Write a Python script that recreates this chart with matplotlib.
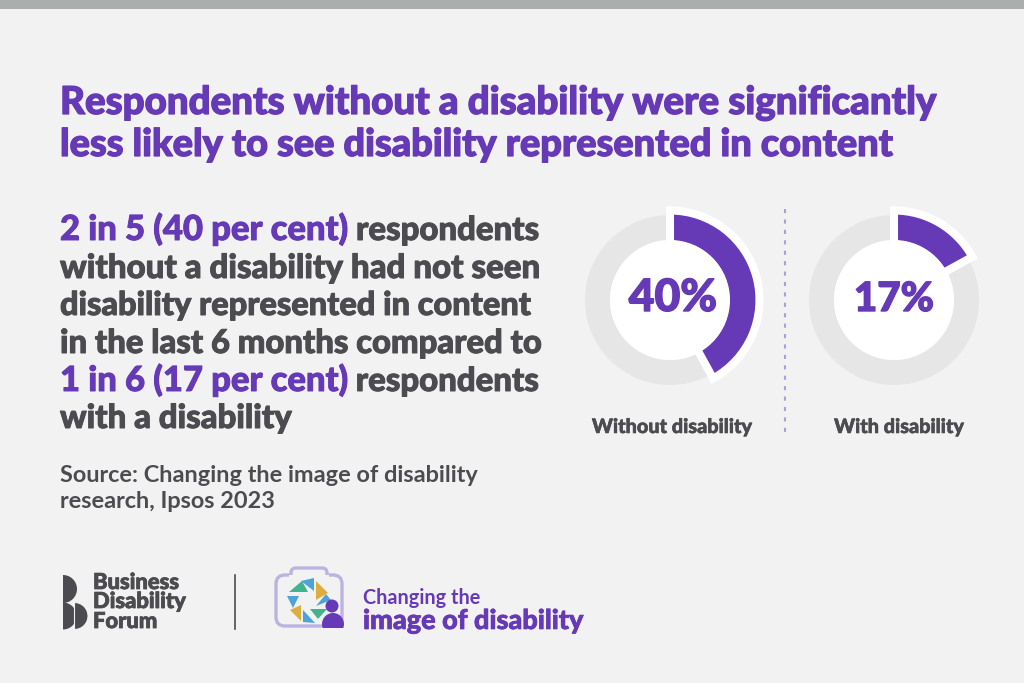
import matplotlib
matplotlib.use('Agg')
import matplotlib.pyplot as plt
import matplotlib.patheffects as pe
from matplotlib.patches import Circle, Wedge, Polygon, FancyBboxPatch, Rectangle

W, H = 1024, 683
PURPLE = '#6639b7'
DARK = '#4b4b50'
BG = '#f2f2f3'

plt.rcParams['font.family'] = ['Lato', 'DejaVu Sans']

# data
arc_values = [42, 17]  # as drawn in the picture, the first arc runs a bit past its label
share_labels = ['40%', '17%']
group_labels = ['Without disability', 'With disability']
title_lines = ['Respondents without a disability were significantly',
               'less likely to see disability represented in content']
body_lines = [[('2 in 5 (40 per cent)', PURPLE), ('respondents', DARK)],
              [('without a disability had not seen', DARK)],
              [('disability represented in content', DARK)],
              [('in the last 6 months compared to', DARK)],
              [('1 in 6 (17 per cent)', PURPLE), ('respondents', DARK)],
              [('with a disability', DARK)]]
source_lines = ['Source: Changing the image of disability', 'research, Ipsos 2023']

fig = plt.figure(figsize=(W / 100, H / 100), dpi=100, facecolor=BG)

# overlay in pixel coords, y pointing down like the picture
bg = fig.add_axes([0, 0, 1, 1])
bg.set_xlim(0, W)
bg.set_ylim(H, 0)
bg.axis('off')
bg.add_patch(Rectangle((0, 0), W, 9, color='#abaeac', lw=0))


def heavy(col, width=0.7):
    # the original face is heavier than Lato's heaviest, thicken it a little
    return [pe.withStroke(linewidth=width, foreground=col)]


def draw_runs(x, y, runs, size):
    # coloured pieces of one line, each starts where the last one ended
    renderer = fig.canvas.get_renderer()
    for txt, col in runs:
        s = size * 1.05 if col == PURPLE else size
        t = bg.text(x, y, txt, color=col, fontsize=s, fontweight='black', va='baseline',
                    path_effects=heavy(col))
        x += t.get_window_extent(renderer).width + 8


for line, y, s in zip(title_lines, [114, 156], [27.7, 27.3]):
    bg.text(60, y, line, color=PURPLE, fontsize=s, fontweight='black', va='baseline',
            path_effects=heavy(PURPLE, 0.9))

for runs, y, s in zip(body_lines, [240, 278, 315, 353, 391, 428], [23.7, 23.8, 23.4, 23.6, 23.7, 23.7]):
    draw_runs(60, y, runs, s)

for line, y in zip(source_lines, [482, 508]):
    bg.text(60, y, line, color=DARK, fontsize=16.9, fontweight='bold', va='baseline')


def donut(cx, cy, value, label, size_pt, text_dx):
    size = 220
    ax = fig.add_axes([(cx - size / 2) / W, 1 - (cy + size / 2) / H, size / W, size / H])
    ax.pie([100], colors=['#e6e6e7'], radius=85, startangle=90,
           wedgeprops=dict(width=25))
    wedges, _ = ax.pie([value, 100 - value], colors=[PURPLE, 'none'], radius=89.5,
                       startangle=90, counterclock=False,
                       wedgeprops=dict(width=34, edgecolor='white', linewidth=5.8))
    wedges[1].set_visible(False)
    ax.add_patch(Circle((0, 0), 60, color='white', lw=0, zorder=5))
    ax.text(text_dx, -11, label, color=PURPLE, fontsize=size_pt, fontweight='black',
            ha='center', va='baseline', zorder=6, path_effects=heavy(PURPLE, 1.0))
    ax.set_xlim(-size / 2, size / 2)
    ax.set_ylim(-size / 2, size / 2)
    ax.set_aspect('equal')
    ax.axis('off')


donut(670, 300, arc_values[0], share_labels[0], 32, 3)
donut(894, 300, arc_values[1], share_labels[1], 29, 0)

bg.text(672, 433, group_labels[0], color=DARK, fontsize=14.3, fontweight='black', ha='center',
        va='baseline', path_effects=heavy(DARK, 0.4))
bg.text(899, 433, group_labels[1], color=DARK, fontsize=14.3, fontweight='black', ha='center',
        va='baseline', path_effects=heavy(DARK, 0.4))

# dotted divider
bg.plot([785, 785], [209, 438], color='#a9a2d6', lw=1.5, ls=(0, (2, 3)))

# Business Disability Forum logo
bg.add_patch(Wedge((63, 589), 14, -90, 90, color=DARK, lw=0))
bg.add_patch(Wedge((63, 616), 13.5, -90, 90, color=DARK, lw=0))
bg.add_patch(Wedge((74.5, 616), 13.5, -90, 90, fc=DARK, ec=BG, lw=0.8))
for line, y in zip(['Business', 'Disability', 'Forum'], [589, 608, 628]):
    bg.text(93, y, line, color=DARK, fontsize=15.8, fontweight='black', va='baseline',
            path_effects=heavy(DARK, 0.6))
bg.plot([235, 235], [575, 629], color=DARK, lw=1.2)

# camera logo
bg.add_patch(FancyBboxPatch((276, 575), 66, 51, boxstyle='round,pad=0,rounding_size=9',
                            fc='none', ec='#bdb3e0', lw=2.4))
bg.add_patch(FancyBboxPatch((291, 568), 36, 14, boxstyle='round,pad=0,rounding_size=5',
                            fc=BG, ec='#bdb3e0', lw=2.4))
bg.add_patch(Rectangle((289, 575), 40, 9, color=BG, lw=0))
blades = [([(289, 592), (302, 581), (308, 592)], '#3fb58f'),
          ([(301, 581), (314, 578), (314, 591)], '#4ba3da'),
          ([(316, 581), (328, 593), (316, 600)], '#dcae3e'),
          ([(316, 606), (326, 594), (331, 600)], '#4ba3da'),
          ([(310, 609), (327, 609), (318, 619)], '#3fb58f'),
          ([(303, 610), (315, 623), (303, 622)], '#4ba3da'),
          ([(290, 610), (301, 605), (301, 621)], '#dcae3e'),
          ([(287, 596), (299, 596), (293, 608)], '#4ba3da')]
for pts, col in blades:
    bg.add_patch(Polygon(pts, color=col, lw=0))
bg.add_patch(Circle((332, 606), 6.5, color=PURPLE, lw=0, zorder=4))
bg.add_patch(Circle((333, 624), 11, color=PURPLE, lw=0, zorder=4))
bg.add_patch(Rectangle((320, 628), 26, 12, color=BG, lw=0, zorder=4))

bg.text(363, 604, 'Changing the', color=PURPLE, fontsize=14.3, fontweight='bold', va='baseline')
bg.text(363, 629, 'image of disability', color=PURPLE, fontsize=19.5, fontweight='black', va='baseline',
        path_effects=heavy(PURPLE, 0.5))

fig.savefig('out.png', dpi=100, facecolor=BG)
